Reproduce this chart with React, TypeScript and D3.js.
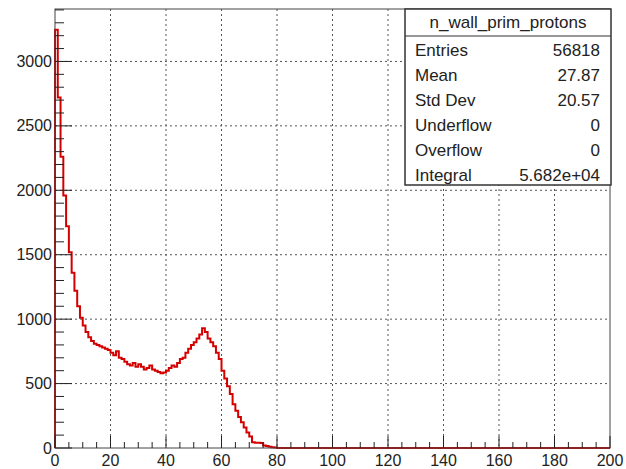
import React from "react";
import * as d3 from "d3";

// Histogram bin contents, bins of width 1 from 0 to 200
const counts: number[] = [
  3245, 2720, 2260, 1960, 1720, 1520, 1360, 1220, 1100, 1010,
  950, 900, 860, 830, 810, 800, 790, 780, 770, 760,
  740, 720, 750, 700, 690, 670, 650, 640, 660, 630,
  650, 630, 610, 620, 640, 610, 600, 590, 580, 585,
  600, 620, 640, 630, 660, 690, 700, 740, 770, 800,
  820, 850, 880, 930, 900, 850, 820, 790, 740, 690,
  600, 540, 480, 420, 340, 290, 240, 200, 160, 120,
  90, 45, 40, 40, 38, 20, 15, 10, 5, 3,
  0, 0, 0, 0, 0, 0, 0, 0, 0, 0, 0, 0, 0, 0, 0, 0, 0, 0, 0, 0,
  0, 0, 0, 0, 0, 0, 0, 0, 0, 0, 0, 0, 0, 0, 0, 0, 0, 0, 0, 0,
  0, 0, 0, 0, 0, 0, 0, 0, 0, 0, 0, 0, 0, 0, 0, 0, 0, 0, 0, 0,
  0, 0, 0, 0, 0, 0, 0, 0, 0, 0, 0, 0, 0, 0, 0, 0, 0, 0, 0, 0,
  0, 0, 0, 0, 0, 0, 0, 0, 0, 0, 0, 0, 0, 0, 0, 0, 0, 0, 0, 0,
  0, 0, 0, 0, 0, 0, 0, 0, 0, 0, 0, 0, 0, 0, 0, 0, 0, 0, 0, 0,
];
const xMin = 0;
const xMax = 200;
const yMax = 3407;

const xMajorTicks = [0, 20, 40, 60, 80, 100, 120, 140, 160, 180, 200];
const yMajorTicks = [0, 500, 1000, 1500, 2000, 2500, 3000];

const statsTitle = "n_wall_prim_protons";
const statsLabels = ["Entries", "Mean", "Std Dev", "Underflow", "Overflow", "Integral"];
const statsValues = ["56818", "27.87", "20.57", "0", "0", "5.682e+04"];

const W = 626;
const H = 469;
const M = { left: 55, right: 610, top: 9, bottom: 448 };
const FONT = "'Liberation Sans', Arial, Helvetica, sans-serif";

export default function App() {
  const x = d3.scaleLinear().domain([xMin, xMax]).range([M.left, M.right]);
  const y = d3.scaleLinear().domain([0, yMax]).range([M.bottom, M.top]);

  const xMinor = d3.range(xMin, xMax + 0.001, 5).filter((v) => v % 20 !== 0);
  const yMinor = d3.range(0, yMax, 100).filter((v) => v % 500 !== 0);

  // step outline
  const pts: [number, number][] = [[0, 0]];
  counts.forEach((c, i) => {
    pts.push([i, c]);
    pts.push([i + 1, c]);
  });
  pts.push([counts.length, 0]);
  const line = d3
    .line<[number, number]>()
    .x((d) => x(d[0]))
    .y((d) => y(d[1]));

  const box = { x0: 405, x1: 611, y0: 9, y1: 185, sep: 36 };

  return (
    <svg width={W} height={H} style={{ position: "absolute", left: 0, top: 0, background: "#fff" }}>
      <rect x={0} y={0} width={W} height={H} fill="#fff" />
      {/* grid */}
      <g stroke="#555" strokeWidth={1} strokeDasharray="2,3">
        {xMajorTicks.slice(1, -1).map((t) => (
          <line key={"gx" + t} x1={x(t)} x2={x(t)} y1={M.top} y2={M.bottom} />
        ))}
        {yMajorTicks.slice(1).map((t) => (
          <line key={"gy" + t} x1={M.left} x2={M.right} y1={y(t)} y2={y(t)} />
        ))}
      </g>
      {/* histogram */}
      <path d={line(pts) || ""} fill="none" stroke="#d40000" strokeWidth={2} />
      {/* frame */}
      <rect
        x={M.left}
        y={M.top}
        width={M.right - M.left}
        height={M.bottom - M.top}
        fill="none"
        stroke="#444"
        strokeWidth={1}
      />
      {/* ticks */}
      <g stroke="#222" strokeWidth={1}>
        {xMajorTicks.map((t) => (
          <line key={"xt" + t} x1={x(t)} x2={x(t)} y1={M.bottom} y2={M.bottom - 12} />
        ))}
        {xMinor.map((t) => (
          <line key={"xm" + t} x1={x(t)} x2={x(t)} y1={M.bottom} y2={M.bottom - 6} />
        ))}
        {yMajorTicks.map((t) => (
          <line key={"yt" + t} x1={M.left} x2={M.left + 17} y1={y(t)} y2={y(t)} />
        ))}
        {yMinor.map((t) => (
          <line key={"ym" + t} x1={M.left} x2={M.left + 9} y1={y(t)} y2={y(t)} />
        ))}
      </g>
      <g fontFamily={FONT} fontSize={16} fill="#222">
        {xMajorTicks.map((t) => (
          <text key={"xl" + t} x={x(t)} y={466} textAnchor="middle">
            {t}
          </text>
        ))}
        {yMajorTicks.map((t) => (
          <text key={"yl" + t} x={M.left - 3} y={y(t) + 5.5} textAnchor="end">
            {t}
          </text>
        ))}
      </g>
      {/* stats box */}
      <g fontFamily={FONT} fontSize={17} fill="#222">
        <rect
          x={box.x0}
          y={box.y0}
          width={box.x1 - box.x0}
          height={box.y1 - box.y0}
          fill="#fff"
          stroke="#333"
          strokeWidth={1.5}
        />
        <line x1={box.x0} x2={box.x1} y1={box.sep} y2={box.sep} stroke="#333" strokeWidth={1} />
        <text x={(box.x0 + box.x1) / 2} y={28} textAnchor="middle">
          {statsTitle}
        </text>
        {statsLabels.map((l, i) => (
          <text key={"sl" + i} x={415} y={55.5 + 25 * i}>
            {l}
          </text>
        ))}
        {statsValues.map((v, i) => (
          <text key={"sv" + i} x={600} y={55.5 + 25 * i} textAnchor="end">
            {v}
          </text>
        ))}
      </g>
    </svg>
  );
}
